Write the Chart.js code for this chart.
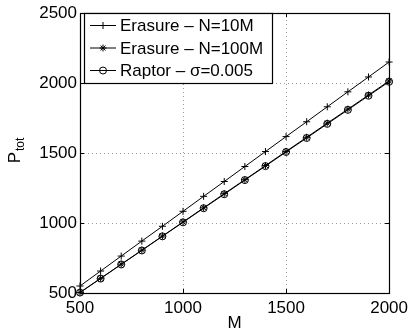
<!DOCTYPE html>
<html><head><meta charset="utf-8">
<script src="https://cdn.jsdelivr.net/npm/chart.js@4/dist/chart.umd.min.js"></script>
<style>html,body{margin:0;padding:0;background:#fff}#wrap{width:413px;height:336px}</style>
</head><body><div id="wrap"><canvas id="c" width="413" height="336"></canvas></div>
<script>
const M = [500,600,700,800,900,1000,1100,1200,1300,1400,1500,1600,1700,1800,1900,2000];
const erasure10M = [550,657,764,871,977,1084,1191,1297,1404,1511,1618,1724,1831,1938,2044,2151];
const erasure100M = [504,605,706,806,907,1008,1109,1210,1310,1411,1512,1613,1714,1814,1915,2016];
const raptor = [503,603,704,804,905,1005,1106,1206,1307,1407,1508,1608,1709,1809,1910,2010];
const seriesLabels = ['Erasure \u2013 N=10M','Erasure \u2013 N=100M','Raptor \u2013 \u03c3=0.005'];
const xTicks = [500,1000,1500,2000];
const yTicks = [500,1000,1500,2000,2500];
const xTitle = 'M';
const yTitleMain = 'P';
const yTitleSub = 'tot';

const FONT = '"Liberation Sans", Arial, sans-serif';
const FS = 17;

function pts(ys){ return M.map((x,i)=>({x:x,y:ys[i]})); }

const styles = [
  {pointStyle:'cross', radius:3.5},
  {pointStyle:'star', radius:3.5},
  {pointStyle:'circle', radius:3.5}
];

const datasets = [erasure10M, erasure100M, raptor].map((d,i)=>({
  label: seriesLabels[i],
  data: pts(d),
  borderColor:'#000',
  backgroundColor:'rgba(0,0,0,0)',
  pointBorderColor:'#000',
  pointBackgroundColor: i===1 ? '#000' : 'rgba(0,0,0,0)',
  pointStyle: styles[i].pointStyle,
  pointRadius: styles[i].radius,
  pointBorderWidth: 1,
  borderWidth: 1,
  clip: false,
  tension: 0
}));

const gridPlugin = {
  id:'dotgrid',
  beforeDatasetsDraw(chart){
    const ctx = chart.ctx, a = chart.chartArea;
    const xs = chart.scales.x, ys = chart.scales.y;
    ctx.save();
    ctx.strokeStyle = '#9a9a9a';
    ctx.lineWidth = 1;
    ctx.setLineDash([1,3]);
    ctx.beginPath();
    xTicks.slice(1,-1).forEach(v=>{
      const px = Math.round(xs.getPixelForValue(v))+0.5;
      ctx.moveTo(px, a.bottom); ctx.lineTo(px, a.top);
    });
    yTicks.slice(1,-1).forEach(v=>{
      const py = Math.round(ys.getPixelForValue(v))+0.5;
      ctx.moveTo(a.left, py); ctx.lineTo(a.right, py);
    });
    ctx.stroke();
    ctx.restore();
  }
};

const framePlugin = {
  id:'frame',
  afterDraw(chart){
    const ctx = chart.ctx, a = chart.chartArea;
    const xs = chart.scales.x, ys = chart.scales.y;
    ctx.save();
    ctx.strokeStyle = '#000';
    ctx.lineWidth = 1;
    ctx.beginPath();
    xTicks.forEach(v=>{
      const px = Math.round(xs.getPixelForValue(v))+0.5;
      ctx.moveTo(px, a.bottom); ctx.lineTo(px, a.bottom-4);
      ctx.moveTo(px, a.top); ctx.lineTo(px, a.top+4);
    });
    yTicks.forEach(v=>{
      const py = Math.round(ys.getPixelForValue(v))+0.5;
      ctx.moveTo(a.left, py); ctx.lineTo(a.left+4, py);
      ctx.moveTo(a.right, py); ctx.lineTo(a.right-4, py);
    });
    ctx.stroke();
    ctx.lineWidth = 1.2;
    ctx.strokeRect(Math.round(a.left)+0.5, Math.round(a.top)+0.5, Math.round(a.right-a.left), Math.round(a.bottom-a.top));

    // legend
    const lx = 84, ly = 13, lw = 188, lh = 70;
    ctx.fillStyle = '#fff';
    ctx.fillRect(lx, ly, lw, lh);
    ctx.lineWidth = 1.2;
    ctx.strokeStyle = '#000';
    ctx.strokeRect(lx+0.5, ly+0.5, lw, lh);
    ctx.font = FS + 'px ' + FONT;
    ctx.textBaseline = 'middle';
    ctx.textAlign = 'left';
    chart.data.datasets.forEach((ds,i)=>{
      const cy = ly + 12.5 + i*22.5;
      ctx.strokeStyle = '#000';
      ctx.lineWidth = 1;
      ctx.beginPath();
      ctx.moveTo(90, cy); ctx.lineTo(116, cy);
      ctx.stroke();
      ctx.fillStyle = ds.pointBackgroundColor;
      ctx.strokeStyle = '#000';
      ctx.lineWidth = 1;
      Chart.helpers.drawPoint(ctx, {pointStyle: ds.pointStyle, radius: ds.pointRadius, rotation:0, borderWidth:1}, 103, cy);
      ctx.fillStyle = '#000';
      ctx.fillText(ds.label, 120, cy+1);
    });

    // axis titles
    ctx.fillStyle = '#000';
    ctx.font = FS + 'px ' + FONT;
    ctx.textAlign = 'center';
    ctx.textBaseline = 'middle';
    ctx.fillText(xTitle, (a.left+a.right)/2, 323);
    ctx.save();
    ctx.translate(14, 151);
    ctx.rotate(-Math.PI/2);
    ctx.textAlign = 'left';
    ctx.textBaseline = 'alphabetic';
    ctx.font = FS + 'px ' + FONT;
    const pw = ctx.measureText(yTitleMain).width;
    ctx.font = '12px ' + FONT;
    const sw = ctx.measureText(yTitleSub).width;
    const tw = pw + sw;
    ctx.font = FS + 'px ' + FONT;
    ctx.fillText(yTitleMain, -tw/2, 6);
    ctx.font = '12px ' + FONT;
    ctx.fillText(yTitleSub, -tw/2 + pw + 1, 10);
    ctx.restore();
    ctx.restore();
  }
};

new Chart(document.getElementById('c'), {
  type:'line',
  data:{ datasets },
  options:{
    responsive:false,
    animation:false,
    events:[],
    layout:{ padding:{ top:9, right:20, left:0, bottom:0 } },
    plugins:{ legend:{display:false}, tooltip:{enabled:false} },
    scales:{
      x:{
        type:'linear', min:500, max:2000,
        afterBuildTicks(s){ s.ticks = xTicks.map(v=>({value:v})); },
        afterFit(s){ s.height = 43; },
        grid:{ display:false, drawTicks:false },
        border:{ display:false },
        ticks:{ font:{family:FONT, size:FS}, color:'#000', padding:5, maxRotation:0, autoSkip:false, callback:(v)=>String(v) }
      },
      y:{
        type:'linear', min:500, max:2500,
        afterBuildTicks(s){ s.ticks = yTicks.map(v=>({value:v})); },
        afterFit(s){ s.width = 80; },
        grid:{ display:false, drawTicks:false },
        border:{ display:false },
        ticks:{ font:{family:FONT, size:FS}, color:'#000', padding:3, autoSkip:false, callback:(v)=>String(v) }
      }
    }
  },
  plugins:[gridPlugin, framePlugin]
});
</script>
</body></html>
